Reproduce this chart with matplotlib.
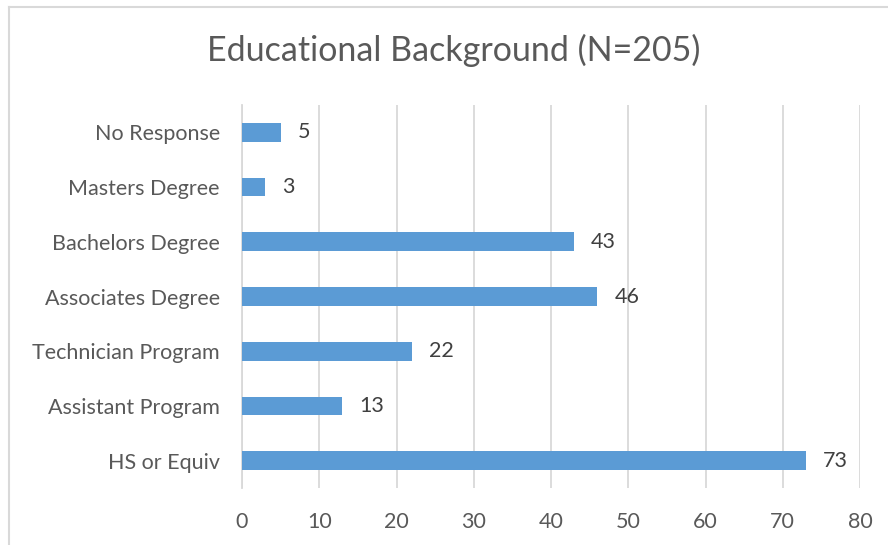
import matplotlib.pyplot as plt
from matplotlib.lines import Line2D

categories = ["HS or Equiv", "Assistant Program", "Technician Program",
              "Associates Degree", "Bachelors Degree", "Masters Degree", "No Response"]
counts = [73, 13, 22, 46, 43, 3, 5]
xticks = [0, 10, 20, 30, 40, 50, 60, 70, 80]

plt.rcParams['font.family'] = ['Lato', 'DejaVu Sans']
text_col = '#595959'
bar_col = '#5B9BD5'

fig = plt.figure(figsize=(8.88, 5.45), dpi=100)
ax = fig.add_axes([242/888, 1-488/545, (860-242)/888, (488-105)/545])

pos = list(range(len(categories)))
ax.barh(pos, counts, height=0.34, color=bar_col, zorder=3)
for p, v in zip(pos, counts):
    ax.text(v + 2.2, p, str(v), va='center', ha='left', fontsize=15.5, color='#404040')

ax.set_xlim(0, 80)
ax.set_ylim(-0.5, len(categories) - 0.5)
ax.set_yticks(pos)
ax.set_yticklabels(categories)
ax.set_xticks(xticks)
ax.tick_params(axis='both', length=0, labelsize=15.5, labelcolor=text_col)
ax.tick_params(axis='y', pad=16)
ax.tick_params(axis='x', pad=17)
ax.grid(axis='x', color='#D9D9D9', linewidth=1.3, zorder=0)
for s in ['top', 'right', 'bottom']:
    ax.spines[s].set_visible(False)
ax.spines['left'].set_color('#D9D9D9')
ax.spines['left'].set_linewidth(1.3)

fig.text(454/888, 1-50/545, "Educational Background (N=205)", ha='center', va='center',
         fontsize=24.5, color=text_col)

# chart frame (left and top edges visible)
fig.add_artist(Line2D([8.5/888, 8.5/888], [0, 1-6.5/545], color='#D9D9D9', linewidth=1.5))
fig.add_artist(Line2D([8.5/888, 1], [1-6.5/545, 1-6.5/545], color='#D9D9D9', linewidth=1.5))

fig.savefig('out.png', dpi=100)
